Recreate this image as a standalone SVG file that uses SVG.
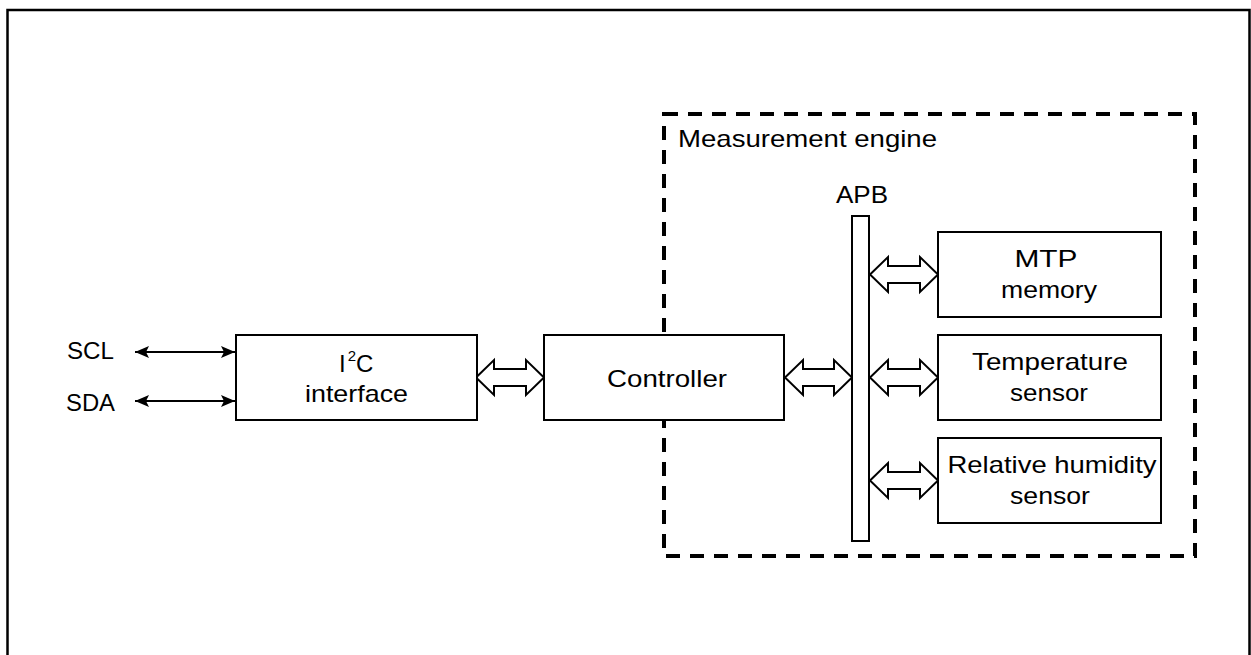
<svg xmlns="http://www.w3.org/2000/svg" width="1251" height="655" viewBox="0 0 1251 655">
  <defs>
    <style>
      .box { fill: #ffffff; stroke: #000000; stroke-width: 2; }
      .txt { font-family: "Liberation Sans", Arial, sans-serif; font-size: 24px; fill: #000000; }
      .mid { text-anchor: middle; }
      .hollow { fill: #ffffff; stroke: #000000; stroke-width: 2; stroke-linejoin: miter; }
      .line { fill: none; stroke: #000000; stroke-width: 2; }
    </style>
    <marker id="ah" viewBox="0 0 14 12" refX="14" refY="6" markerWidth="14" markerHeight="12" markerUnits="userSpaceOnUse" orient="auto-start-reverse">
      <path d="M0,0 L14,6 L0,12 L3,6 Z" fill="#000000"/>
    </marker>
  </defs>
  <rect width="1251" height="655" fill="#ffffff"/>
  <path d="M7.5,660 V10 H1249.5 V660" fill="none" stroke="#000000" stroke-width="2.5"/>

  <g id="measurement-engine">
    <rect x="664" y="114" width="531" height="442" fill="none" stroke="#000000" stroke-width="4" stroke-dasharray="14 10"/>
    <text class="txt" x="678" y="147" textLength="259" lengthAdjust="spacingAndGlyphs">Measurement engine</text>
  </g>

  <g id="connectors">
    <line class="line" x1="135" y1="352" x2="235" y2="352" marker-start="url(#ah)" marker-end="url(#ah)"/>
    <line class="line" x1="135" y1="401" x2="235" y2="401" marker-start="url(#ah)" marker-end="url(#ah)"/>
    <polygon class="hollow" points="476,377.5 494,360 494,369 526,369 526,360 544,377.5 526,395 526,386 494,386 494,395"/>
    <polygon class="hollow" points="785,377.5 803,360 803,369 834,369 834,360 852,377.5 834,395 834,386 803,386 803,395"/>
    <polygon class="hollow" points="870,274.5 888,257 888,266 920,266 920,257 938,274.5 920,292 920,283 888,283 888,292"/>
    <polygon class="hollow" points="870,377.5 888,360 888,369 920,369 920,360 938,377.5 920,395 920,386 888,386 888,395"/>
    <polygon class="hollow" points="870,480.5 888,463 888,472 920,472 920,463 938,480.5 920,498 920,489 888,489 888,498"/>
  </g>

  <g id="scl">
    <text class="txt" x="67" y="359" textLength="47" lengthAdjust="spacingAndGlyphs">SCL</text>
  </g>
  <g id="sda">
    <text class="txt" x="66" y="411" textLength="49" lengthAdjust="spacingAndGlyphs">SDA</text>
  </g>

  <g id="i2c-interface">
    <rect class="box" x="236" y="335" width="241" height="85"/>
    <text class="txt" x="339" y="372">I<tspan font-size="15" dy="-11" dx="2">2</tspan><tspan dy="11">C</tspan></text>
    <text class="txt mid" x="356.5" y="402" textLength="103" lengthAdjust="spacingAndGlyphs">interface</text>
  </g>

  <g id="controller">
    <rect class="box" x="544" y="335" width="240" height="85"/>
    <text class="txt mid" x="667" y="387" textLength="120" lengthAdjust="spacingAndGlyphs">Controller</text>
  </g>

  <g id="apb">
    <text class="txt mid" x="862" y="203" textLength="52" lengthAdjust="spacingAndGlyphs">APB</text>
    <rect class="box" x="852" y="216" width="17" height="325"/>
  </g>

  <g id="mtp-memory">
    <rect class="box" x="938" y="232" width="223" height="85"/>
    <text class="txt mid" x="1046" y="267" textLength="63" lengthAdjust="spacingAndGlyphs">MTP</text>
    <text class="txt mid" x="1049" y="298" textLength="96" lengthAdjust="spacingAndGlyphs">memory</text>
  </g>

  <g id="temperature-sensor">
    <rect class="box" x="938" y="335" width="223" height="85"/>
    <text class="txt mid" x="1050" y="370" textLength="156" lengthAdjust="spacingAndGlyphs">Temperature</text>
    <text class="txt mid" x="1049" y="401" textLength="78" lengthAdjust="spacingAndGlyphs">sensor</text>
  </g>

  <g id="relative-humidity-sensor">
    <rect class="box" x="938" y="438" width="223" height="85"/>
    <text class="txt mid" x="1052" y="473" textLength="209" lengthAdjust="spacingAndGlyphs">Relative humidity</text>
    <text class="txt mid" x="1050" y="504" textLength="80" lengthAdjust="spacingAndGlyphs">sensor</text>
  </g>
</svg>
